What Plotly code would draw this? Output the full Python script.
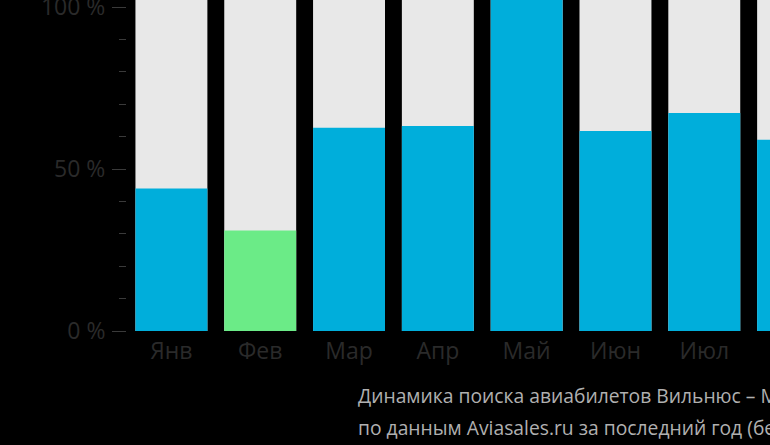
import plotly.graph_objects as go

months = ["Янв", "Фев", "Мар", "Апр", "Май", "Июн", "Июл", "Авг"]
values = [44, 31, 62.7, 63.3, 100, 61.7, 67.3, 59]
background = [100] * len(months)
tick_vals = [0, 50, 100]
tick_text = ["0 %", "50 %", "100 %"]
title_lines = [
    "Динамика поиска авиабилетов Вильнюс – Москва",
    "по данным Aviasales.ru за последний год (без учёта дат вылета)",
]

min_v = min(values)
colors = ["#6BEB87" if v == min_v else "#00AEDB" for v in values]

W, H = 770, 445
ML, MR, MT, MB = 127, 0, 0, 114

fig = go.Figure()
fig.add_trace(go.Bar(x=months, y=[b * 1.05 for b in background], marker=dict(color="#E8E8E8", line_width=0),
                     hoverinfo="skip", showlegend=False))
fig.add_trace(go.Bar(x=months, y=[v * 1.05 if v >= 100 else v for v in values],
                     marker=dict(color=colors, line_width=0), showlegend=False))

fig.update_layout(
    width=W, height=H,
    margin=dict(l=ML, r=MR, t=MT, b=MB, autoexpand=False),
    paper_bgcolor="black", plot_bgcolor="black",
    barmode="overlay", bargap=0.19,
    font=dict(family="Open Sans", color="#2a2a2a"),
)
fig.update_xaxes(range=[-0.5, 6.74], showgrid=False, zeroline=False, showline=False,
                 automargin=False,
                 ticks="", ticklabelstandoff=4, tickfont=dict(size=23, color="#2a2a2a"))
fig.update_yaxes(range=[0, 102.16], tickvals=tick_vals, ticktext=tick_text,
                 showgrid=False, zeroline=False, showline=False, automargin=False,
                 ticks="outside", ticklen=14, tickwidth=1, tickcolor="#3a3a3a",
                 ticklabelstandoff=2, ticklabeloverflow="allow",
                 minor=dict(tickvals=[10, 20, 30, 40, 60, 70, 80, 90], ticks="outside", ticklen=7,
                            tickcolor="#3a3a3a", tickwidth=1),
                 tickfont=dict(size=23, color="#2a2a2a"))

plot_w = W - ML - MR
plot_h = H - MT - MB
for i, (txt, ypx) in enumerate(zip(title_lines, [395, 427])):
    fig.add_annotation(text=txt, xref="paper", yref="paper",
                       x=(356 - ML) / plot_w, y=(plot_h - (ypx - MT)) / plot_h,
                       xanchor="left", yanchor="middle", showarrow=False,
                       font=dict(size=19.3, color="#b0b0b0", family="Open Sans"))

fig.write_html(
    "out.html",
    config={"displayModeBar": False},
    post_script="document.body.style.margin='0';document.body.style.background='black';"
                "document.body.style.overflow='hidden';",
)
